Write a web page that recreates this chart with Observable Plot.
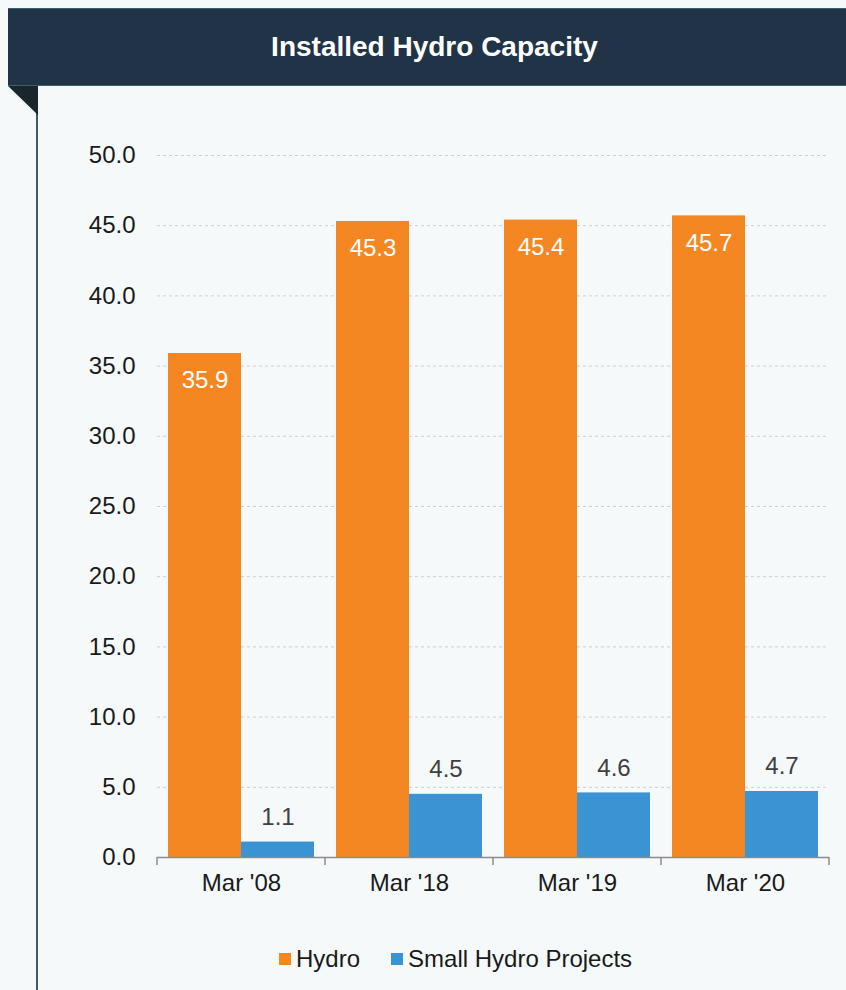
<!DOCTYPE html>
<html>
<head>
<meta charset="utf-8">
<script src="https://cdn.jsdelivr.net/npm/d3@7"></script>
<script src="https://cdn.jsdelivr.net/npm/@observablehq/plot@0.6"></script>
<style>
  html, body { margin: 0; padding: 0; background: #f5f9fa; }
  #wrap { position: relative; width: 846px; height: 990px; overflow: hidden; background: #f5f9fa; font-family: "Liberation Sans", Arial, sans-serif; }
  #header { position: absolute; left: 8px; top: 8px; width: 838px; height: 76px; background: #213347;
    border-top: 1px solid #3e5f66; border-bottom: 1px solid #3e5f66; box-sizing: content-box; }
  #title { position: absolute; left: 15px; right: 0; top: 0; line-height: 76px; text-align: center; color: #ffffff;
    font-weight: bold; font-size: 28px; }
  #fold { position: absolute; left: 0; top: 0; }
  #chart { position: absolute; left: 0; top: 130px; }
  #legend { position: absolute; left: 279px; top: 945px; display: flex; align-items: center; font-size: 24px; color: #1a1a1a; white-space: nowrap; }
  .sw { display: inline-block; width: 12px; height: 12px; margin-right: 5px; }
  .item { display: flex; align-items: center; margin-right: 31px; }
</style>
</head>
<body>
<div id="wrap">
  <svg id="fold" width="846" height="990">
    <line x1="37" y1="86" x2="37" y2="990" stroke="#3f5866" stroke-width="2"/>
    <polygon points="8,86 38,86 38,115" fill="#19262b"/>
  </svg>
  <div id="header"><div id="title">Installed Hydro Capacity</div></div>
  <div id="chart"></div>
  <div id="legend"></div>
</div>
<script>
const categories = ["Mar '08", "Mar '18", "Mar '19", "Mar '20"];
const seriesNames = ["Hydro", "Small Hydro Projects"];
const hydro = [35.9, 45.3, 45.4, 45.7];
const smallHydro = [1.1, 4.5, 4.6, 4.7];
const yTicks = [0, 5, 10, 15, 20, 25, 30, 35, 40, 45, 50];
const colors = ["#f58722", "#3a93d2"];

const data = categories.flatMap((c, i) => [
  {cat: c, series: seriesNames[0], value: hydro[i]},
  {cat: c, series: seriesNames[1], value: smallHydro[i]}
]);

const chart = Plot.plot({
  width: 846,
  height: 790,
  marginTop: 25,
  marginBottom: 63,
  marginLeft: 157,
  marginRight: 17,
  style: {background: "transparent", fontFamily: "'Liberation Sans', Arial, sans-serif", fontSize: "24px", color: "#1a1a1a", overflow: "visible"},
  fx: {domain: categories, padding: 0, label: null, axis: "bottom", tickSize: 0, tickPadding: 16},
  x: {domain: seriesNames, axis: null, paddingInner: 0, paddingOuter: 0.15},
  y: {domain: [0, 50], ticks: yTicks, tickFormat: d3.format(".1f"), label: null, tickSize: 0, tickPadding: 22},
  color: {domain: seriesNames, range: colors},
  marks: [
    Plot.gridY(yTicks.filter(d => d > 0), {stroke: "#c9ced3", strokeOpacity: 1, strokeDasharray: "3,3"}),
    Plot.barY(data, {fx: "cat", x: "series", y: "value", fill: "series"}),
    Plot.text(data.filter(d => d.series === seriesNames[0]), {fx: "cat", x: "series", y: "value", text: d => d.value.toFixed(1), dy: 27, fill: "#ffffff"}),
    Plot.text(data.filter(d => d.series === seriesNames[1]), {fx: "cat", x: "series", y: "value", text: d => d.value.toFixed(1), dy: -25, fill: "#404040"}),
    Plot.ruleY([0], {stroke: "#8c8c8c", strokeWidth: 1.5})
  ]
});
document.getElementById("chart").appendChild(chart);

// boundary tick marks on the category axis
const fxs = chart.scale("fx");
const ys = chart.scale("y");
const y0 = ys.apply(0);
const bounds = categories.map(c => fxs.apply(c)).concat([fxs.apply(categories[categories.length - 1]) + fxs.bandwidth]);
const g = d3.select(chart).append("g");
g.selectAll("line").data(bounds).join("line")
  .attr("x1", d => d).attr("x2", d => d)
  .attr("y1", y0).attr("y2", y0 + 8)
  .attr("stroke", "#8c8c8c").attr("stroke-width", 1.5);

// legend
const legend = d3.select("#legend");
seriesNames.forEach((s, i) => {
  const it = legend.append("div").attr("class", "item");
  it.append("span").attr("class", "sw").style("background", colors[i]);
  it.append("span").text(s);
});
</script>
</body>
</html>
